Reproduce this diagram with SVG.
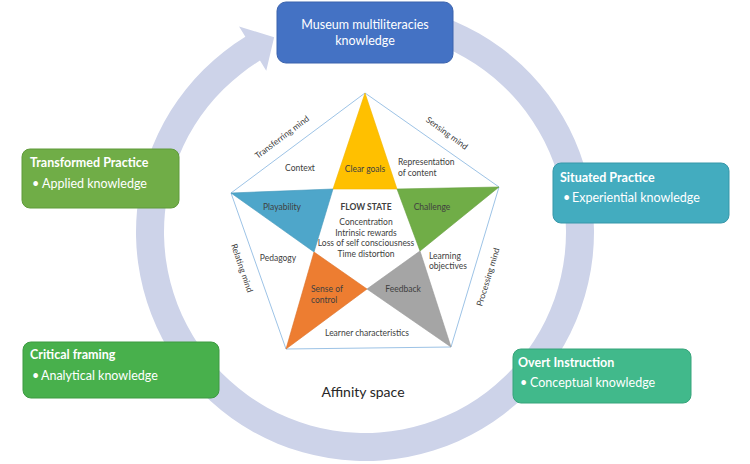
<svg xmlns="http://www.w3.org/2000/svg" width="750" height="464" viewBox="0 0 750 464">
<style>
  .box { stroke-width: 1; }
  .bt { font-family: Lato, "Liberation Sans", sans-serif; fill: #ffffff; font-size: 12.5px; }
  .bt-b { font-weight: bold; }
  .st { font-family: Lato, "Liberation Sans", sans-serif; fill: #404040; font-size: 8.5px; }
  .tri { stroke-width: 0.6; }
  .pent { fill: none; stroke: #9DC3E6; stroke-width: 1; }
</style>
<rect width="750" height="464" fill="#ffffff"/>
<g id="connectors">
  <path d="M404.77,6.48 A229,229 0 1 1 245.35,36.75 L239.08,26.51 L274.14,37.14 L266.25,70.85 L259.98,60.62 A201,201 0 1 0 399.90,34.05 Z" fill="#CDD3E9"/>
</g>
<g id="museum-knowledge">
  <rect class="box" x="277" y="2" width="176" height="61" rx="9" fill="#4472C4" stroke="#3B63AD"/>
  <text class="bt" x="365" y="29" text-anchor="middle" font-size="13">Museum multiliteracies</text>
  <text class="bt" x="365" y="45" text-anchor="middle" font-size="13">knowledge</text>
</g>
<g id="transformed-practice">
  <rect class="box" x="22" y="149" width="157" height="59" rx="8" fill="#70AD47" stroke="#5F9A3A"/>
  <text class="bt bt-b" x="30" y="167">Transformed Practice</text>
  <text class="bt" x="32" y="188">•</text>
  <text class="bt" x="42" y="188">Applied knowledge</text>
</g>
<g id="situated-practice">
  <rect class="box" x="553" y="163" width="176" height="60" rx="8" fill="#43ACBF" stroke="#3797A9"/>
  <text class="bt bt-b" x="560" y="182">Situated Practice</text>
  <text class="bt" x="563" y="202">•</text>
  <text class="bt" x="572" y="202">Experiential knowledge</text>
</g>
<g id="critical-framing">
  <rect class="box" x="23" y="342" width="196" height="56" rx="8" fill="#48B04C" stroke="#3D9A41"/>
  <text class="bt bt-b" x="30" y="359">Critical framing</text>
  <text class="bt" x="32" y="380">•</text>
  <text class="bt" x="41" y="380">Analytical knowledge</text>
</g>
<g id="overt-instruction">
  <rect class="box" x="513" y="349" width="178" height="54" rx="8" fill="#41B98B" stroke="#36A47A"/>
  <text class="bt bt-b" x="518" y="367">Overt Instruction</text>
  <text class="bt" x="520" y="387">•</text>
  <text class="bt" x="530" y="387">Conceptual knowledge</text>
</g>
<g id="flow-pentagon">
  <polygon class="pent" points="365,93 499,187 451,347 286,349 231,193"/>
  <polygon class="tri" points="365,93 333,189 397,189" fill="#FFC000" stroke="#F2B600"/>
  <polygon class="tri" points="231,193 333,189 314,252" fill="#4EA6CA" stroke="#4597BA"/>
  <polygon class="tri" points="397,189 499,187 420,251" fill="#70AD47" stroke="#649E3D"/>
  <polygon class="tri" points="314,252 367,289 286,349" fill="#ED7D31" stroke="#DC7029"/>
  <polygon class="tri" points="420,251 367,289 451,347" fill="#A5A5A5" stroke="#989898"/>
  <text class="st" x="365" y="172" text-anchor="middle">Clear goals</text>
  <text class="st" x="300" y="171" text-anchor="middle">Context</text>
  <text class="st" x="398" y="165">Representation</text>
  <text class="st" x="398" y="176">of content</text>
  <text class="st" x="282" y="210" text-anchor="middle">Playability</text>
  <text class="st" x="366" y="210" text-anchor="middle" font-weight="bold" fill="#262626">FLOW STATE</text>
  <text class="st" x="432" y="210" text-anchor="middle">Challenge</text>
  <text class="st" x="366" y="225" text-anchor="middle">Concentration</text>
  <text class="st" x="366" y="235.5" text-anchor="middle">Intrinsic rewards</text>
  <text class="st" x="366" y="246" text-anchor="middle">Loss of self consciousness</text>
  <text class="st" x="366" y="257" text-anchor="middle">Time distortion</text>
  <text class="st" x="278" y="261" text-anchor="middle">Pedagogy</text>
  <text class="st" x="429" y="259">Learning</text>
  <text class="st" x="429" y="269">objectives</text>
  <text class="st" x="311" y="292">Sense of</text>
  <text class="st" x="311" y="303">control</text>
  <text class="st" x="403" y="292" text-anchor="middle">Feedback</text>
  <text class="st" x="367" y="336" text-anchor="middle">Learner characteristics</text>
  <text class="st" transform="translate(282,137) rotate(-37)" x="0" y="3" text-anchor="middle">Transferring mind</text>
  <text class="st" transform="translate(447,133) rotate(36)" x="0" y="3" text-anchor="middle">Sensing mind</text>
  <text class="st" transform="translate(242,268) rotate(71)" x="0" y="3" text-anchor="middle">Relating mind</text>
  <text class="st" transform="translate(488,277) rotate(-73)" x="0" y="3" text-anchor="middle">Processing mind</text>
</g>
<g id="affinity-space">
  <text x="363" y="397" text-anchor="middle" font-family="Lato, 'Liberation Sans', sans-serif" font-size="14" fill="#262626">Affinity space</text>
</g>
</svg>
